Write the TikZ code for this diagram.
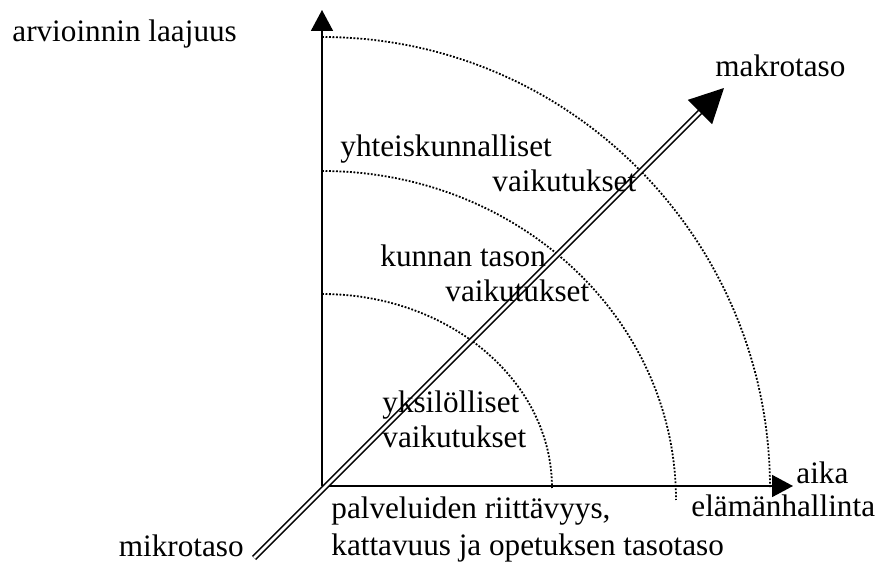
\documentclass[tikz,border=0pt]{standalone}
\usepackage{fontspec}
\setmainfont{Liberation Serif}
\usetikzlibrary{arrows.meta}
\tikzset{
  axis/.style={-{Triangle[length=10.5pt,width=11pt]},line width=0.9pt},
  zone/.style={line width=0.9pt,dash pattern=on 0.9pt off 0.85pt},
  level arrow/.style={-{Triangle[length=17pt,width=17pt]},double,line width=0.8pt,double distance=1.4pt},
  lbl/.style={font=\fontsize{15.6}{17.5}\selectfont,inner sep=0pt,align=left},
}

\begin{document}
\begin{tikzpicture}[x=0.5pt,y=-0.5pt]
    \useasboundingbox (0,0) rectangle (879,566);
    % axes
    \coordinate (o) at (322,486);
    \coordinate (ytop) at (322,10);
    \coordinate (xend) at (793,486);
    \draw[axis] (o) -- (ytop);
    \draw[axis] (o) -- (xend);
    % levels of impact
    \foreach \cy/\rx/\ry in {488/230/194, 500/354/329, 488/448/451}{
      \draw[zone] (322,\cy-\ry) arc[start angle=270,end angle=360,x radius=\rx,y radius=\ry];
    }
    % micro -> macro
    \coordinate (mikroend) at (254,558);
    \coordinate (makroend) at (724,88);
    \draw[level arrow] (mikroend) -- (makroend);
    % labels
    \node[lbl,anchor=base west] (laajuus) at (12,42) {arvioinnin laajuus};
    \node[lbl,anchor=base west] (makro) at (715,77) {makrotaso};
    \node[lbl,anchor=base east] (mikro) at (244,557) {mikrotaso};
    \node[lbl,anchor=base west] (aika) at (796,484) {aika};
    \node[lbl,anchor=base west] (elama) at (691,517) {elämänhallinta};
    \node[lbl,anchor=base west] (yhteis) at (340,192) {yhteiskunnalliset\\\hspace*{76pt}vaikutukset};
    \node[lbl,anchor=base west] (kunta) at (380,302) {kunnan tason\\\hspace*{32.5pt}vaikutukset};
    \node[lbl,anchor=base west] (yksilo) at (382,448) {yksilölliset\\vaikutukset};
    \node[lbl,anchor=base west,font=\fontsize{15.6}{18.5}\selectfont] (palvelu) at (331,556) {palveluiden riittävyys,\\kattavuus ja opetuksen tasotaso};
\end{tikzpicture}
\end{document}
